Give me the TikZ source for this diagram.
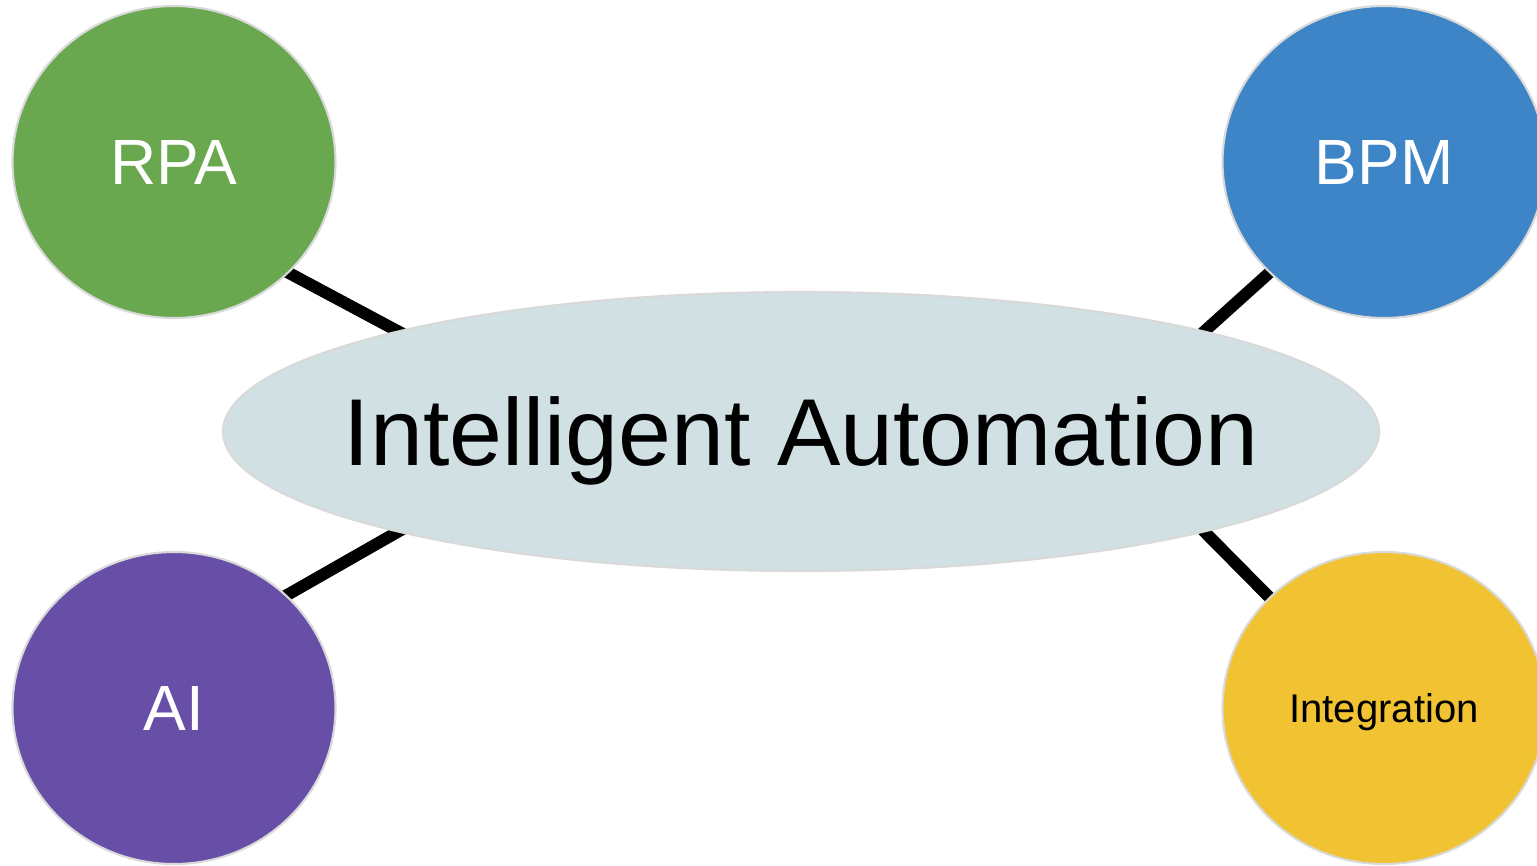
\documentclass[tikz,border=0pt]{standalone}
\usepackage{fontspec}
\setmainfont{Liberation Sans}
\usepackage{xcolor}
\usetikzlibrary{shapes.geometric,backgrounds}
\definecolor{rpagreen}{HTML}{6AA84F}
\definecolor{bpmblue}{HTML}{3D85C6}
\definecolor{aipurple}{HTML}{674EA7}
\definecolor{intyellow}{HTML}{F1C232}
\definecolor{iagray}{HTML}{D0E0E3}
\definecolor{rimgray}{HTML}{D9D9D9}
\begin{document}
\begin{tikzpicture}[
		blob/.style={ellipse,draw=rimgray,line width=0.6pt,inner sep=0pt,text depth=0pt,minimum width=3.23cm,minimum height=3.12cm},
		link/.style={line width=3.4pt,shorten <=-4pt,shorten >=-4pt}]
		\useasboundingbox (0,0) rectangle (15.37,8.65);
		\node[ellipse,draw=rimgray,line width=0.6pt,fill=iagray,inner xsep=-1.2cm,inner ysep=0pt,text depth=0pt,minimum width=11.56cm,minimum height=2.79cm,font=\fontsize{27.05}{30}\selectfont] (ia) at (8.01,4.335) {Intelligent Automation};
		\node[blob,fill=rpagreen,text=white,font=\fontsize{18.2}{20}\selectfont] (rpa) at (1.74,7.03) {RPA};
		\node[blob,fill=bpmblue,text=white,font=\fontsize{18.2}{20}\selectfont] (bpm) at (13.84,7.03) {BPM};
		\node[blob,fill=aipurple,text=white,font=\fontsize{18.2}{20}\selectfont] (ai) at (1.74,1.57) {AI};
		\node[blob,fill=intyellow,font=\fontsize{11.4}{13}\selectfont] (int) at (13.84,1.57) {Integration};
		\begin{pgfonlayer}{background}
		\draw[link] (rpa.-44) -- (ia.166);
		\draw[link] (bpm.224) -- (ia.14);
		\draw[link] (ai.45) -- (ia.194);
		\draw[link] (int.136) -- (ia.-14);
		\end{pgfonlayer}
\end{tikzpicture}
\end{document}
